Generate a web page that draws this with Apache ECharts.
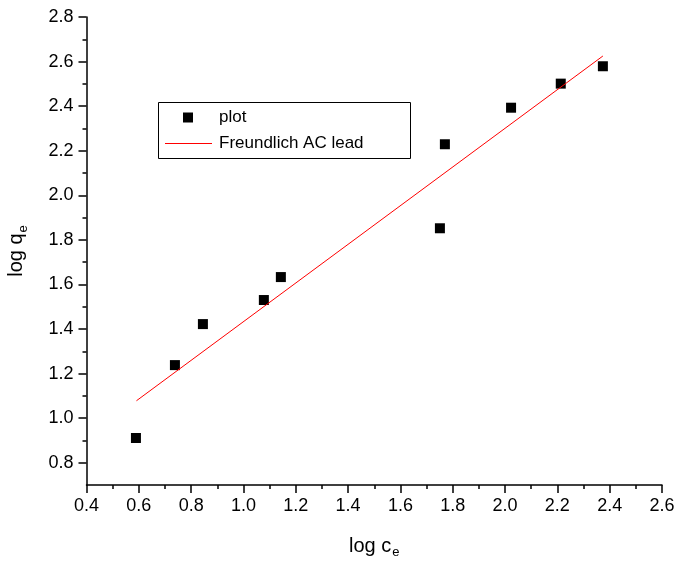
<!DOCTYPE html>
<html><head><meta charset="utf-8">
<script src="https://cdn.jsdelivr.net/npm/echarts@6/dist/echarts.min.js"></script>
<style>html,body{margin:0;padding:0;background:#fff}#c{width:678px;height:563px}</style>
</head><body><div id="c"></div>
<script>
var xValues = [0.589, 0.738, 0.845, 1.078, 1.143, 1.751, 1.770, 2.023, 2.213, 2.374];
var yValues = [0.911, 1.238, 1.422, 1.530, 1.633, 1.852, 2.229, 2.393, 2.501, 2.579];
var fitX = [0.591, 2.374];
var fitY = [1.078, 2.625];
var seriesNames = ['plot', 'Freundlich AC lead'];
var yMajorTicks = [0.8, 1.0, 1.2, 1.4, 1.6, 1.8, 2.0, 2.2, 2.4, 2.6, 2.8];
var yMinorTicks = [0.9, 1.1, 1.3, 1.5, 1.7, 1.9, 2.1, 2.3, 2.5, 2.7];

var font = 'Liberation Sans, Arial, sans-serif';
var txt = '#000';
var subRich = {s: {fontSize: 13, verticalAlign: 'bottom', padding: [13,0,0,1], fontFamily: font, color: txt}};
var chart = echarts.init(document.getElementById('c'), null, {renderer: 'canvas'});
chart.setOption({
  animation: false,
  backgroundColor: '#fff',
  grid: {left: 86.5, right: 16, top: 17, bottom: 78, containLabel: false, outerBoundsMode: 'none'},
  xAxis: {
    type: 'value', min: 0.4, max: 2.6, interval: 0.2,
    name: 'log c{s|e}', nameLocation: 'middle', nameGap: 48,
    nameTextStyle: {fontFamily: font, fontSize: 20, color: txt, rich: subRich},
    axisLine: {lineStyle: {color: '#000', width: 1.5}},
    axisTick: {inside: false, length: 8, lineStyle: {color: '#000', width: 1.5}},
    minorTick: {show: true, splitNumber: 2, length: 4, lineStyle: {color: '#000', width: 1.5}},
    axisLabel: {fontFamily: font, fontSize: 18, color: txt, margin: 12, formatter: function(v){return v.toFixed(1);}},
    splitLine: {show: false}
  },
  yAxis: [{
    type: 'value', min: 0.7, max: 2.8, interval: 0.1, position: 'left', offset: 0,
    name: 'log q{s|e}', nameLocation: 'middle', nameGap: 57,
    nameTextStyle: {fontFamily: font, fontSize: 20, color: txt, rich: subRich},
    axisLine: {lineStyle: {color: '#000', width: 1.5}},
    axisTick: {inside: false, length: 8, customValues: yMajorTicks, lineStyle: {color: '#000', width: 1.5}},
    axisLabel: {fontFamily: font, fontSize: 18, color: txt, margin: 13, customValues: yMajorTicks,
      formatter: function(v){ return Number(v).toFixed(1); }},
    splitLine: {show: false}
  }, {
    type: 'value', min: 0.7, max: 2.8, interval: 0.1, position: 'left', offset: 0,
    axisLine: {show: false},
    axisTick: {inside: false, length: 4, customValues: yMinorTicks, lineStyle: {color: '#000', width: 1.5}},
    axisLabel: {show: false},
    splitLine: {show: false}
  }],
  legend: [{
    data: [seriesNames[0]], left: 183, top: 109, padding: 0, itemWidth: 10, itemHeight: 10,
    icon: 'rect',
    textStyle: {fontFamily: font, fontSize: 17, color: txt, padding: [0,0,0,21]}
  }, {
    data: [seriesNames[1]], left: 165, top: 135, padding: 0, itemWidth: 47, itemHeight: 1,
    icon: 'rect',
    textStyle: {fontFamily: font, fontSize: 17, color: txt, padding: [0,0,0,2]}
  }],
  graphic: [{
    type: 'rect', left: 156, top: 100, z: 100, silent: true,
    shape: {width: 252, height: 56},
    style: {fill: 'none', stroke: '#000', lineWidth: 1}
  }],
  series: [{
    name: seriesNames[0], type: 'scatter', symbol: 'rect', symbolSize: 10,
    itemStyle: {color: '#000', opacity: 1},
    data: xValues.map(function(x, i){return [x, yValues[i]];})
  }, {
    name: seriesNames[1], type: 'line', symbol: 'none', showSymbol: false,
    lineStyle: {color: '#ff0000', width: 1},
    itemStyle: {color: '#ff0000'},
    data: fitX.map(function(x, i){return [x, fitY[i]];})
  }]
});
</script>
</body></html>
